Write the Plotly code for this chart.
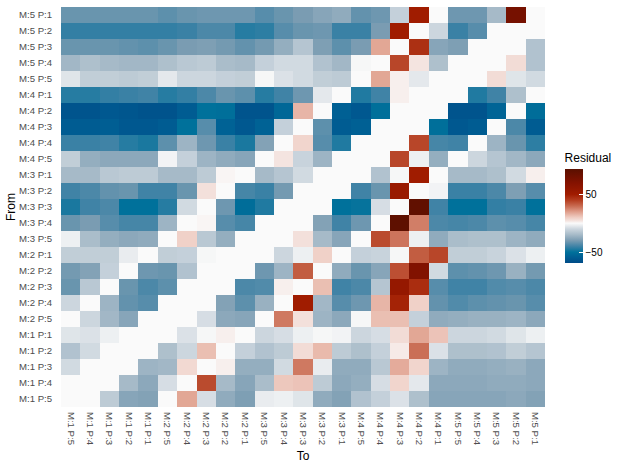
import plotly.graph_objects as go

to_labels = ["M:1 P:5","M:1 P:4","M:1 P:3","M:1 P:2","M:1 P:1","M:2 P:5","M:2 P:4","M:2 P:3","M:2 P:2","M:2 P:1",
             "M:3 P:5","M:3 P:4","M:3 P:3","M:3 P:2","M:3 P:1","M:4 P:5","M:4 P:4","M:4 P:3","M:4 P:2","M:4 P:1",
             "M:5 P:5","M:5 P:4","M:5 P:3","M:5 P:2","M:5 P:1"]
from_labels = ["M:5 P:1","M:5 P:2","M:5 P:3","M:5 P:4","M:5 P:5","M:4 P:1","M:4 P:2","M:4 P:3","M:4 P:4","M:4 P:5",
               "M:3 P:1","M:3 P:2","M:3 P:3","M:3 P:4","M:3 P:5","M:2 P:1","M:2 P:2","M:2 P:3","M:2 P:4","M:2 P:5",
               "M:1 P:1","M:1 P:2","M:1 P:3","M:1 P:4","M:1 P:5"]

residuals = [
 [-33,-33,-33,-33,-33,-35,-33,-32,-32,-32,-36,-33,-30,-27,-25,-34,-32,-12,50,0,-32,-32,-20,78,0],
 [-42,-42,-42,-42,-42,-42,-41,-38,-38,-44,-43,-36,-33,-32,-41,-41,-30,50,0,-10,-41,-36,0,0,0],
 [-33,-33,-33,-34,-35,-33,-30,-29,-31,-34,-31,-24,-16,-29,-35,-30,18,0,44,-27,-29,0,0,0,-17],
 [-21,-18,-20,-21,-21,-18,-15,-14,-19,-20,-12,-9,-9,-17,-21,-1,0,38,4,-18,0,0,0,6,-17],
 [-6,-13,-13,-14,-13,-5,-10,-10,-12,-13,-1,-7,-9,-13,-14,0,18,2,-5,0,0,0,6,-6,-9],
 [-44,-44,-42,-41,-40,-44,-42,-38,-33,-35,-44,-40,-32,-5,0,-45,-40,2,0,0,0,-45,-40,-18,0],
 [-64,-64,-62,-63,-65,-65,-60,-50,-51,-64,-64,-55,15,0,-58,-62,-51,0,0,0,-64,-64,-56,0,-52],
 [-60,-60,-59,-62,-62,-60,-50,-36,-57,-62,-57,-12,0,-35,-60,-58,0,0,0,-51,-62,-60,0,-38,-60],
 [-41,-41,-40,-44,-46,-35,-22,-32,-41,-46,-28,0,8,-36,-45,0,0,0,38,-39,-40,0,-22,-33,-43],
 [-13,-24,-26,-26,-26,-2,-12,-22,-25,-27,0,4,-11,-22,0,0,0,38,-3,-24,0,-10,-16,-21,-26],
 [-20,-20,-15,-14,-14,-20,-20,-14,1,0,-20,-16,-9,0,0,0,-17,-1,50,0,-20,-20,-18,-9,2],
 [-40,-38,-34,-33,-40,-40,-33,5,0,-39,-41,-31,0,0,0,-40,-33,55,0,-2,-41,-41,-38,-29,-36],
 [-46,-40,-38,-50,-50,-44,-9,0,-32,-52,-45,0,0,0,-50,-49,-8,0,90,-40,-50,-50,-42,-41,-50],
 [-33,-30,-36,-39,-39,-22,0,1,-36,-39,0,0,0,-28,-40,-32,0,92,26,-38,-39,-38,-35,-36,-39],
 [-3,-19,-24,-26,-25,0,9,-15,-24,0,0,0,5,-20,-27,0,37,28,-3,-25,-19,-18,-18,-22,-25],
 [-13,-13,-13,-4,0,-13,-12,-1,0,0,0,-10,-3,9,0,-12,-11,-1,33,38,-13,-13,-11,-7,-3],
 [-31,-28,-12,0,-32,-33,-17,0,0,0,-32,-22,33,0,-25,-33,-27,36,72,-9,-35,-34,-32,-23,-31],
 [-33,-15,0,-33,-38,-35,0,0,0,-38,-37,2,0,13,-40,-38,-16,58,45,-36,-40,-40,-37,-36,-38],
 [-10,0,-22,-34,-36,0,0,0,-28,-35,-23,0,50,-21,-36,-32,15,48,9,-34,-37,-35,-34,-33,-36],
 [0,-10,-21,-27,0,0,0,-8,-26,-27,0,27,5,-22,-26,-1,13,13,-12,-25,-24,-23,-23,-22,-26],
 [-6,-7,-3,0,0,0,-7,-1,2,0,-10,-8,-3,-1,-2,-10,-8,6,18,12,-10,-10,-9,-6,-3],
 [-17,-9,0,0,0,-18,-10,13,0,-12,-17,-14,6,14,-14,-18,-12,3,29,-7,-18,-18,-17,-13,-16],
 [-9,0,0,0,-22,-21,7,0,2,-24,-24,-9,27,-4,-25,-25,-15,17,8,-22,-25,-25,-24,-23,-26],
 [0,0,0,-20,-26,-8,0,37,-20,-27,-19,11,12,-14,-26,-24,-8,8,-5,-26,-26,-26,-25,-25,-26],
 [0,0,-14,-27,-28,0,18,-8,-25,-29,-4,-3,-6,-25,-28,-17,-12,-7,-18,-27,-27,-27,-27,-26,-28],
]

zmin, zmax = -69, 94
def pos(v):
    return (v - zmin) / (zmax - zmin)

stops = [(-69,"#004b87"),(-60,"#005c92"),(-50,"#00719b"),(-40,"#4083a6"),(-30,"#7a9cb2"),(-20,"#a6bac8"),
         (-10,"#ccd6de"),(-4,"#e9ecef"),(0,"#fafafa"),(4,"#f4e4e0"),(10,"#efcdc3"),(20,"#df9d8a"),
         (30,"#c86a50"),(40,"#b43d1f"),(50,"#a01c00"),(70,"#841200"),(94,"#5a1000")]
colorscale = [[pos(v), c] for v, c in stops]

fig = go.Figure(go.Heatmap(
    z=residuals, x=to_labels, y=from_labels, zmin=zmin, zmax=zmax, colorscale=colorscale,
    colorbar=dict(
        title=dict(text="Residual", side="top", font=dict(size=12, color="#000000")),
        thickness=18, thicknessmode="pixels", len=113, lenmode="pixels",
        x=1.0405, xanchor="left", xref="paper", y=0.6415, yanchor="top", yref="paper",
        xpad=0, ypad=0, outlinewidth=0, borderwidth=0,
        tickvals=[-50, 50], ticktext=["\u221250", "50"],
        ticks="inside", ticklen=4, tickcolor="#ffffff", tickwidth=0.5,
        tickfont=dict(size=10, color="#000000"),
    ),
))

fig.update_layout(
    width=623, height=467, autosize=False,
    margin=dict(l=60.5, r=77.5, t=7, b=60, pad=0),
    paper_bgcolor="#ffffff", plot_bgcolor="#ffffff",
    font=dict(family="Liberation Sans, Arial, sans-serif"),
    xaxis=dict(type="category", categoryorder="array", categoryarray=to_labels, tickangle=90,
               showgrid=False, zeroline=False, ticks="outside", ticklen=2, tickcolor="rgba(0,0,0,0)",
               tickfont=dict(size=9.6, color="#4d4d4d"),
               title=dict(text="To", font=dict(size=12, color="#000000"), standoff=6)),
    yaxis=dict(type="category", categoryorder="array", categoryarray=from_labels, autorange="reversed",
               showgrid=False, zeroline=False, ticks="outside", ticklen=6, tickcolor="rgba(0,0,0,0)",
               tickfont=dict(size=9.6, color="#4d4d4d"),
               title=dict(text="From", font=dict(size=12, color="#000000"), standoff=0)),
)

fig.write_html("out.html", post_script="document.body.style.margin='0';", config={"displayModeBar": False})
